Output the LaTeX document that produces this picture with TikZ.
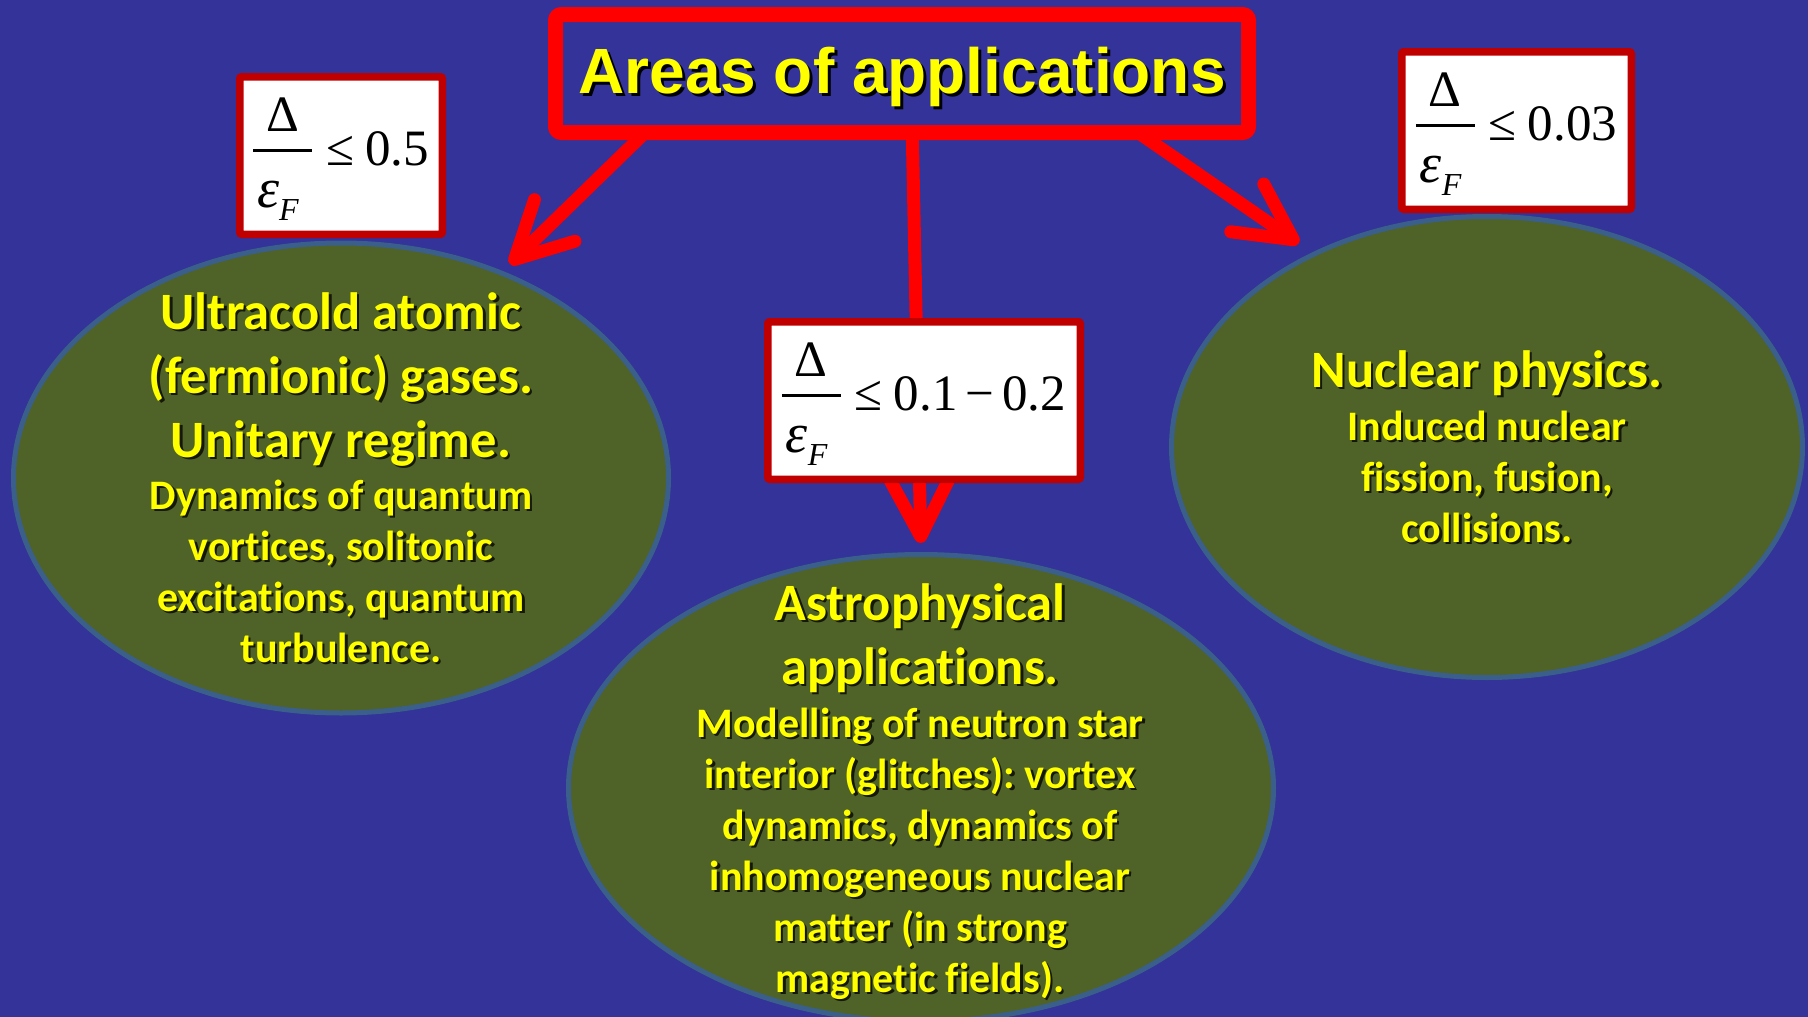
\documentclass[tikz,border=0pt]{standalone}
\usepackage{fontspec}
\setmainfont{Liberation Serif}
\newfontfamily\carlito{Carlito}[Ligatures=CommonOff]
\newfontfamily\arialf{Liberation Sans}
\newfontfamily\timesf{Liberation Serif}
\usetikzlibrary{shapes.geometric,arrows.meta,calc}
\pgfdeclarelayer{bglayer}
\pgfdeclarelayer{arrlayer}
\pgfsetlayers{bglayer,arrlayer,main}
\definecolor{bgblue}{HTML}{333399}
\definecolor{ellfill}{HTML}{4F6228}
\definecolor{ellborder}{HTML}{3A5F8A}
\definecolor{boxred}{HTML}{C00000}
\definecolor{titlered}{HTML}{FF0000}
\definecolor{txtyellow}{HTML}{FFFF00}
\colorlet{shadowcol}{black!75!ellfill}
\newcommand\shd[2][2.5pt]{\leavevmode\rlap{\hspace{#1}\raisebox{-#1}{\textcolor{shadowcol}{#2}}}#2}
\newcommand\ratiotext[1]{%
  \timesf
  \rlap{\raisebox{34pt}{\makebox[59pt]{\fontsize{51}{51}\selectfont Δ}}}%
  \rlap{\raisebox{13pt}{\rule{59pt}{2.6pt}}}%
  \rlap{\raisebox{-42pt}{\hspace{4pt}\fontsize{56}{56}\selectfont\itshape ε\raisebox{-13pt}{\fontsize{32}{32}\selectfont F}}}%
  \hspace{59pt}\hspace{14pt}{\fontsize{51}{51}\selectfont ≤\hspace{11pt}#1}}
\frenchspacing
\begin{document}
\begin{tikzpicture}[x=1pt,y=-1pt,
  area/.style={ellipse, draw=ellborder, line width=5pt, fill=ellfill, inner sep=0pt},
  head/.style={text=txtyellow, font=\carlito\bfseries\fontsize{52.5}{64}\selectfont, align=center, inner sep=0pt, anchor=base},
  body/.style={text=txtyellow, font=\carlito\bfseries\fontsize{42}{51}\selectfont, align=center, inner sep=0pt, anchor=base},
  ratiobox/.style={draw=boxred, line width=7.5pt, fill=white, rounded corners=2pt, inner sep=0pt, text height=74pt, text depth=55pt, text=black},
  titlebox/.style={draw=titlered, line width=15pt, fill=bgblue, rounded corners=6pt, inner sep=0pt, minimum width=693pt, minimum height=118pt, text=txtyellow, text height=50pt, text depth=11pt, font=\arialf\bfseries\fontsize{64}{64}\selectfont},
  arr/.style={draw=titlered, line width=13pt, -{Straight Barb[length=56pt,width=58pt,round]}}
]
\begin{pgfonlayer}{bglayer}
\fill[bgblue] (0,0) rectangle (1808,1017);
\end{pgfonlayer}
\useasboundingbox (0,0) rectangle (1808,1017);

\node[area, minimum width=655pt, minimum height=470pt] (left) at (341,478) {};
\node[area, minimum width=705pt, minimum height=467pt] (mid) at (921,788) {};
\node[area, minimum width=631pt, minimum height=461pt] (right) at (1487,447) {};

\node[titlebox] (title) at (902,73.5) {\colorlet{shadowcol}{black}\shd[3pt]{Areas of applications}};

\begin{pgfonlayer}{arrlayer}
\draw[arr, shorten >=10pt] ([xshift=-244pt,yshift=20pt]title.south) -- (left.52.5);
\draw[arr, shorten >=9pt] ([xshift=10pt,yshift=20pt]title.south) -- (mid.north);
\draw[arr, shorten >=16pt] ([xshift=218pt,yshift=20pt]title.south) -- (right.132.8);
\end{pgfonlayer}

\node[ratiobox, minimum width=202.5pt, minimum height=157.5pt] (r1) at (341,155.5) {\ratiotext{0.5}};
\node[ratiobox, minimum width=312.5pt, minimum height=157.5pt] (r2) at (924,400.5) {\ratiotext{0.1\hspace{8pt}−\hspace{8pt}0.2}};
\node[ratiobox, minimum width=229.5pt, minimum height=157.5pt] (r3) at (1516.5,130.5) {\ratiotext{0.03}};

\node[head] (lh) at (341,457) {\shd{Ultracold atomic}\\\shd{(fermionic) gases.}\\\shd{Unitary regime.}};
\node[body] (lb) at (341,662) {\shd{Dynamics of quantum}\\\shd{vortices, solitonic}\\\shd{excitations, quantum}\\\shd{turbulence.}};
\node[head] (mh) at (920,684) {\shd{Astrophysical}\\\shd{applications.}};
\node[body] (mb) at (920,992) {\shd{Modelling of neutron star}\\\shd{interior (glitches): vortex}\\\shd{dynamics, dynamics of}\\\shd{inhomogeneous nuclear}\\\shd{matter (in strong}\\\shd{magnetic fields).}};
\node[head] (rh) at (1487,387) {\shd{Nuclear physics.}};
\node[body] (rb) at (1487,542) {\shd{Induced nuclear}\\\shd{fission, fusion,}\\\shd{collisions.}};
\end{tikzpicture}
\end{document}
